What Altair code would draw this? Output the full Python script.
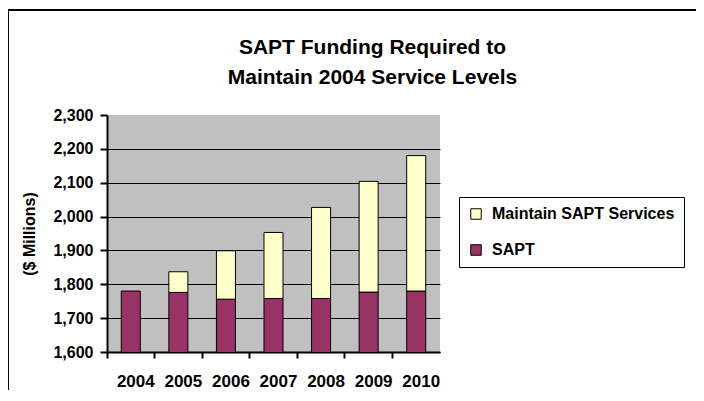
import altair as alt
import pandas as pd

years = ["2004", "2005", "2006", "2007", "2008", "2009", "2010"]
sapt = [1780, 1776, 1756, 1758, 1758, 1777, 1780]
maintain = [0, 61, 143, 195, 269, 327, 400]
series = ["Maintain SAPT Services", "SAPT"]
colors = ["#FFFFCC", "#993366"]
y_ticks = [1600, 1700, 1800, 1900, 2000, 2100, 2200, 2300]

rows = []
for y, s, m in zip(years, sapt, maintain):
    rows.append({"year": y, "series": "SAPT", "value": s, "ord": 0})
    rows.append({"year": y, "series": "Maintain SAPT Services", "value": m, "ord": 1})
df = pd.DataFrame(rows)

FONT = "Liberation Sans"

bars = alt.Chart(df).mark_bar(
    width=alt.RelativeBandSize(0.4), stroke="black", strokeWidth=1, clip=True
).encode(
    x=alt.X("year:N", title=None,
            scale=alt.Scale(paddingInner=0, paddingOuter=0),
            axis=alt.Axis(bandPosition=0, labelAngle=0, labelOffset=5,
                          labelFontSize=17, labelFont=FONT, labelFontWeight="bold",
                          labelColor="black", tickColor="black", tickSize=6,
                          domainColor="black", domainWidth=2, tickWidth=2,
                          labelPadding=15, grid=False, labelLimit=200)),
    y=alt.Y("value:Q", stack="zero", title="($ Millions)",
            scale=alt.Scale(domain=[1600, 2300], zero=False, nice=False),
            axis=alt.Axis(values=y_ticks, format=",.0f", labelFontSize=16, labelFont=FONT,
                          labelFontWeight="bold", labelColor="black",
                          tickColor="black", tickSize=7, tickWidth=2,
                          domainColor="black", domainWidth=2,
                          gridColor="black", gridWidth=1,
                          gridOpacity={"condition": {"test": "datum.value < 2300", "value": 1}, "value": 0},
                          labelPadding=7, titleFontSize=16, titleFont=FONT,
                          titleFontWeight="bold", titleColor="black", titlePadding=15)),
    color=alt.Color("series:N", sort=series,
                    scale=alt.Scale(domain=series, range=colors),
                    legend=alt.Legend(title=None, orient="none", legendX=352, legendY=82,
                                      strokeColor="black", fillColor="white", padding=9,
                                      labelFontSize=16, labelFont=FONT, labelFontWeight="bold",
                                      labelColor="black", labelLimit=400,
                                      symbolType="square", symbolSize=110,
                                      symbolStrokeColor="black", symbolStrokeWidth=1,
                                      rowPadding=20, labelOffset=8)),
    order=alt.Order("ord:Q"),
).transform_filter("datum.value > 0")

top_line = alt.Chart(df).mark_rule(color="black", strokeWidth=2).encode(
    x=alt.value(-100), x2=alt.value(600), y=alt.value(-105)
)
left_line = alt.Chart(df).mark_rule(color="black", strokeWidth=2).encode(
    x=alt.value(-99), y=alt.value(-105), y2=alt.value(290)
)

chart = alt.layer(bars, top_line, left_line).properties(
    width=333, height=237,
    autosize=alt.AutoSizeParams(type="none"),
    padding={"left": 99, "top": 107, "right": 256, "bottom": 38},
    title=alt.TitleParams(["SAPT Funding Required to", "Maintain 2004 Service Levels"],
                          anchor="middle", frame="group", dx=99, dy=79, offset=0,
                          fontSize=21, font=FONT, fontWeight="bold", color="black",
                          lineHeight=30),
).configure_view(fill="#C0C0C0", stroke=None)

chart.save("out.html", embed_options={"renderer": "svg", "actions": False})
